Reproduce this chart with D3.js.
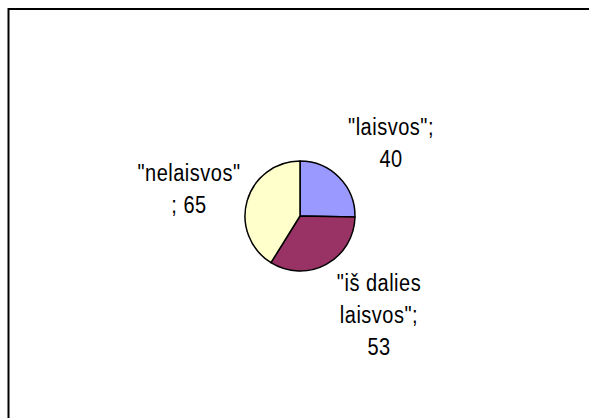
<!DOCTYPE html>
<html><head><meta charset="utf-8">
<script src="https://cdn.jsdelivr.net/npm/d3@7"></script>
<style>body{margin:0;background:#fff}svg{display:block}</style>
</head><body>
<svg id="c" width="589" height="418"></svg>
<script>
const categories = ["laisvos", "iš dalies laisvos", "nelaisvos"];
const values = [40, 53, 65];
const colors = ["#9999FF", "#993366", "#FFFFCC"];
const labelLines = [["\"laisvos\";", "40"], ["\"iš dalies", "laisvos\";", "53"], ["\"nelaisvos\"", "; 65"]];

const svg = d3.select("#c");
svg.append("rect").attr("x", 8.5).attr("y", 9).attr("width", 700).attr("height", 600)
  .attr("fill", "#fff").attr("stroke", "#000").attr("stroke-width", 2);

const cx = 300, cy = 216, r = 55;
const data = categories.map((c, i) => ({c, v: values[i], col: colors[i], lines: labelLines[i]}));
const pie = d3.pie().value(d => d.v).sort(null);
const arc = d3.arc().innerRadius(0).outerRadius(r);
const g = svg.append("g").attr("transform", `translate(${cx},${cy})`);
const arcs = pie(data);
g.selectAll("path").data(arcs).join("path")
  .attr("d", arc).attr("fill", d => d.data.col)
  .attr("stroke", "#000").attr("stroke-width", 1.5).attr("stroke-linejoin", "round");

// label positions (centre x, first baseline y)
const labelPos = [[391, 135], [379, 291], [189, 181]];
const lh = 32, sy = 1.15;
arcs.forEach((a, i) => {
  const lg = svg.append("g")
    .attr("transform", `translate(${labelPos[i][0]},${labelPos[i][1]}) scale(1,${sy})`);
  const t = lg.append("text").attr("text-anchor", "middle")
    .attr("font-family", "Liberation Sans, Arial, sans-serif").attr("font-size", 20)
    .attr("letter-spacing", 0.5).attr("fill", "#000");
  a.data.lines.forEach((ln, j) => {
    t.append("tspan").attr("x", 0).attr("y", j * lh / sy).text(ln);
  });
});
</script>
</body></html>
